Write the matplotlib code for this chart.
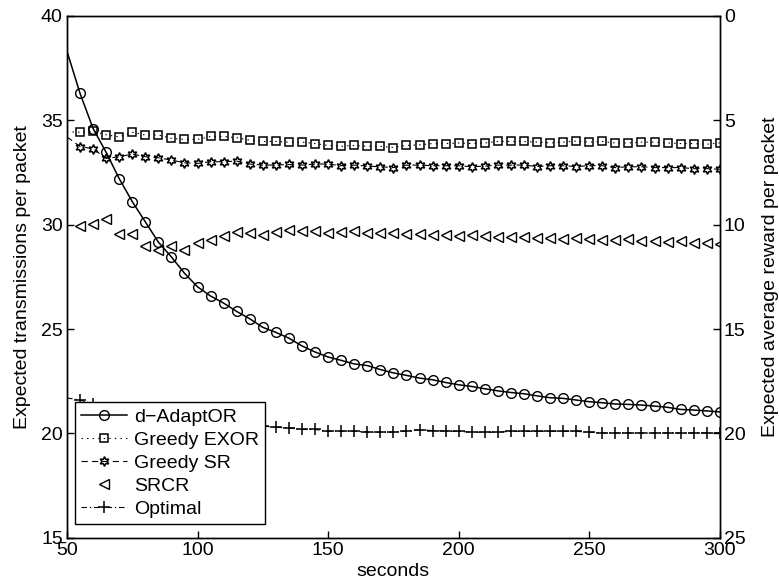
import matplotlib
matplotlib.use('Agg')
import matplotlib.pyplot as plt

plt.rcParams['font.family'] = ['Liberation Sans', 'DejaVu Sans']
plt.rcParams['font.size'] = 14
plt.rcParams['lines.scale_dashes'] = False

seconds = list(range(50, 305, 5))

d_adaptor = [38.3, 36.28, 34.6, 33.46, 32.2, 31.1, 30.13, 29.16, 28.45, 27.67,
             27.02, 26.58, 26.24, 25.84, 25.49, 25.08, 24.84, 24.56, 24.19, 23.9,
             23.66, 23.5, 23.33, 23.25, 23.06, 22.9, 22.78, 22.65, 22.57, 22.44,
             22.33, 22.25, 22.14, 22.04, 21.96, 21.9, 21.8, 21.71, 21.68, 21.6,
             21.52, 21.47, 21.41, 21.39, 21.36, 21.31, 21.25, 21.15, 21.12, 21.08,
             21.03]
greedy_exor = [34.45, 34.42, 34.47, 34.3, 34.2, 34.42, 34.29, 34.29, 34.13, 34.08,
               34.08, 34.22, 34.22, 34.16, 34.05, 33.98, 33.98, 33.95, 33.95, 33.88,
               33.79, 33.75, 33.79, 33.75, 33.75, 33.69, 33.79, 33.82, 33.88, 33.88,
               33.91, 33.88, 33.91, 33.98, 33.98, 33.98, 33.95, 33.91, 33.95, 34.0,
               33.95, 33.98, 33.91, 33.91, 33.95, 33.95, 33.91, 33.88, 33.88, 33.85,
               33.91]
greedy_sr = [34.2, 33.74, 33.63, 33.17, 33.25, 33.38, 33.25, 33.2, 33.09, 32.96,
             32.93, 33.01, 33.01, 33.04, 32.9, 32.85, 32.85, 32.88, 32.85, 32.9,
             32.9, 32.82, 32.85, 32.8, 32.77, 32.73, 32.85, 32.85, 32.82, 32.82,
             32.82, 32.77, 32.8, 32.85, 32.85, 32.85, 32.78, 32.82, 32.82, 32.78,
             32.82, 32.82, 32.73, 32.77, 32.77, 32.73, 32.73, 32.73, 32.68, 32.68,
             32.65]
srcr = [29.9, 29.94, 30.02, 30.29, 29.53, 29.53, 28.97, 28.77, 28.97, 28.8,
        29.13, 29.26, 29.45, 29.64, 29.58, 29.48, 29.64, 29.72, 29.69, 29.69,
        29.58, 29.64, 29.69, 29.58, 29.58, 29.6, 29.55, 29.55, 29.5, 29.5,
        29.45, 29.5, 29.45, 29.4, 29.42, 29.4, 29.35, 29.38, 29.3, 29.35,
        29.3, 29.28, 29.25, 29.3, 29.22, 29.2, 29.15, 29.2, 29.1, 29.12,
        29.05]
optimal = [21.7, 21.6, 21.4, 21.2, 21.05, 20.9, 20.8, 20.7, 20.65, 20.6,
           20.55, 20.5, 20.45, 20.42, 20.38, 20.35, 20.3, 20.26, 20.19, 20.19,
           20.11, 20.11, 20.11, 20.06, 20.06, 20.06, 20.11, 20.17, 20.14, 20.11,
           20.1, 20.06, 20.06, 20.06, 20.1, 20.1, 20.1, 20.11, 20.1, 20.1,
           20.06, 20.02, 20.02, 20.02, 20.02, 20.02, 20.02, 20.02, 20.02, 20.02,
           20.02]

fig = plt.figure(figsize=(7.79, 5.84), dpi=100)
ax1 = fig.add_axes([0.086, 0.079, 0.838, 0.894])

marks = list(range(1, len(seconds)))
ax1.plot(seconds, d_adaptor, color='black', linestyle='-', linewidth=1.1,
         marker='o', markersize=7, mfc='none', mew=1, markevery=marks,
         label='d\u2212AdaptOR')
ax1.plot(seconds, greedy_exor, color='black', linestyle=(0, (1, 3)), linewidth=0.8,
         marker='s', markersize=5.5, mfc='none', mew=1.1, markevery=marks,
         label='Greedy EXOR')
ax1.plot(seconds, greedy_sr, color='black', linestyle=(0, (4.5, 3)), linewidth=0.8,
         marker=(6, 1, 0), markersize=7, mfc='none', mew=1.1, markevery=marks,
         label='Greedy SR')
ax1.plot(seconds, srcr, color='black', linestyle='none',
         marker='<', markersize=6.5, mfc='none', mew=1, markevery=marks,
         label='SRCR')
ax1.plot(seconds, optimal, color='black', linestyle=(0, (4, 2, 1, 2)), linewidth=0.8,
         marker='+', markersize=8.5, mew=1.1, markevery=marks,
         label='Optimal')

ax1.set_xlim(50, 300)
ax1.set_ylim(15, 40)
ax1.set_xticks([50, 100, 150, 200, 250, 300])
ax1.set_yticks([15, 20, 25, 30, 35, 40])
ax1.set_xlabel('seconds', labelpad=3)
ax1.set_ylabel('Expected transmissions per packet', labelpad=7)
ax1.tick_params(direction='in', length=5, width=1, pad=3)

ax2 = ax1.twinx()
ax2.set_ylim(25, 0)
ax2.set_yticks([0, 5, 10, 15, 20, 25])
ax2.set_ylabel('Expected average reward per packet', labelpad=12)
ax2.tick_params(direction='in', length=5, width=1, pad=3)

for ax in (ax1, ax2):
    for sp in ax.spines.values():
        sp.set_linewidth(1)

leg = ax1.legend(loc='lower left', bbox_to_anchor=(0.012, 0.027),
                 borderaxespad=0, frameon=True, fancybox=False,
                 edgecolor='black', framealpha=1, handlelength=2.4,
                 handletextpad=0.35, labelspacing=0.28, borderpad=0.3)
leg.get_frame().set_linewidth(1)

fig.savefig('out.png', dpi=100)
